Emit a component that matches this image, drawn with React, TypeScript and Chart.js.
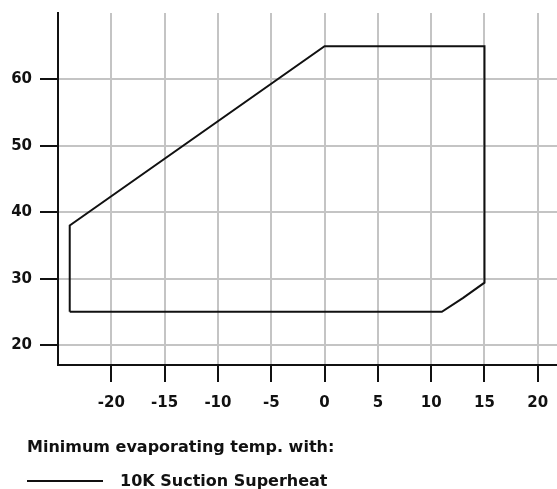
import React, { useEffect, useRef } from "react";
import { Chart, registerables } from "chart.js";

Chart.register(...registerables);

// Envelope outline (evaporating temp °C, condensing temp °C)
const evapTemp = [-23.9, -23.9, 0, 15, 15, 13, 11, -23.9];
const condTemp = [25, 38, 65, 65, 29.4, 27.1, 25, 25];

const xTickValues = [-20, -15, -10, -5, 0, 5, 10, 15, 20];
const yTickValues = [20, 30, 40, 50, 60];

const legendTitle = "Minimum evaporating temp. with:";
const seriesName = "10K Suction Superheat";

export default function App() {
  const canvasRef = useRef<HTMLCanvasElement | null>(null);

  useEffect(() => {
    document.body.style.margin = "0";
    const ctx = canvasRef.current;
    if (!ctx) return;
    const points = evapTemp.map((x, i) => ({ x, y: condTemp[i] }));
    const tickFont = { family: "'DejaVu Sans'", size: 15, weight: "bold" as const };
    const chart = new Chart(ctx, {
      type: "scatter",
      data: {
        datasets: [
          {
            label: seriesName,
            data: points,
            showLine: true,
            borderColor: "#111",
            borderWidth: 2,
            pointRadius: 0,
            tension: 0,
            fill: false,
          },
        ],
      },
      options: {
        responsive: false,
        animation: false,
        layout: { padding: { top: 13, right: 0, left: 0, bottom: 0 } },
        plugins: { legend: { display: false }, tooltip: { enabled: false } },
        scales: {
          x: {
            type: "linear",
            min: -25,
            max: 21.8,
            afterBuildTicks: (scale: any) => {
              scale.ticks = xTickValues.map((v) => ({ value: v }));
            },
            afterFit: (scale: any) => {
              scale.height = 124;
              scale.paddingLeft = 0;
              scale.paddingRight = 0;
            },
            grid: {
              color: "#c4c4c4",
              lineWidth: 2,
              tickColor: "#111",
              tickLength: 17,
              tickWidth: 2,
            },
            border: { color: "#111", width: 2 },
            ticks: { color: "#111", font: tickFont, padding: 12, maxRotation: 0 },
          },
          y: {
            type: "linear",
            min: 17,
            max: 70,
            afterBuildTicks: (scale: any) => {
              scale.ticks = yTickValues.map((v) => ({ value: v }));
            },
            afterFit: (scale: any) => {
              scale.width = 58;
              scale.paddingTop = 0;
              scale.paddingBottom = 0;
            },
            grid: {
              color: "#c4c4c4",
              lineWidth: 2,
              tickColor: "#111",
              tickLength: 18,
              tickWidth: 2,
            },
            border: { color: "#111", width: 2 },
            ticks: { color: "#111", font: tickFont, padding: 8 },
          },
        },
      },
    });
    return () => chart.destroy();
  }, []);

  const textStyle: React.CSSProperties = {
    position: "absolute",
    fontFamily: "'DejaVu Sans'",
    fontWeight: "bold",
    fontSize: 16,
    lineHeight: "16px",
    color: "#111",
    whiteSpace: "nowrap",
  };

  return (
    <div style={{ position: "absolute", left: 0, top: 0, width: 557, height: 489, background: "#fff" }}>
      <canvas ref={canvasRef} width={557} height={489} style={{ position: "absolute", left: 0, top: 0 }} />
      <div style={{ ...textStyle, left: 27, top: 439 }}>{legendTitle}</div>
      <div style={{ position: "absolute", left: 27, top: 480, width: 76, height: 2, background: "#111" }} />
      <div style={{ ...textStyle, left: 120, top: 473 }}>{seriesName}</div>
    </div>
  );
}
